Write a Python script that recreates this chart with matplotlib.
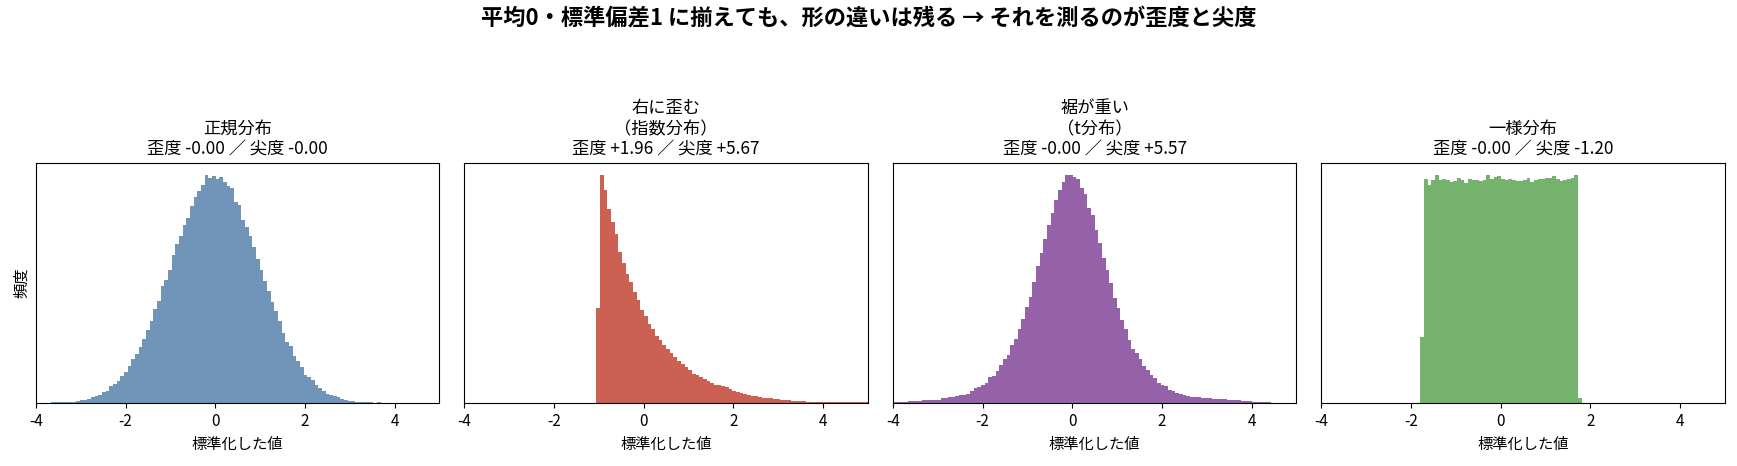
import numpy as np
import matplotlib
matplotlib.use("Agg")
import matplotlib.pyplot as plt

plt.rcParams['font.family'] = ['Noto Sans CJK JP', 'DejaVu Sans']
plt.rcParams['axes.unicode_minus'] = False

# 共通のビン: -4〜5 を 110 区間
bin_lo, bin_hi, n_bins = -4.0, 5.0, 110

# 各分布の度数 (開始ビン番号, 値) ─ 画像から読み取り
normal_start = 4
normal_counts = [3, 2, 3, 3, 3, 3, 4, 6, 8, 8, 12, 18, 22, 25, 34, 37, 50, 58, 67, 82,
                 94, 112, 133, 147, 169, 194, 220, 248, 282, 308, 352, 372, 400, 446, 480,
                 503, 537, 556, 594, 619, 637, 657, 688, 678, 685, 676, 680, 666, 654, 646,
                 604, 597, 550, 529, 504, 469, 435, 400, 369, 336, 304, 278, 248, 212, 185,
                 171, 142, 128, 108, 85, 79, 68, 53, 46, 35, 28, 25, 20, 17, 11, 9, 7, 5,
                 3, 3, 3, 3, 2, 1, 2]

expo_start = 36
expo_counts = [285, 688, 642, 585, 544, 508, 454, 421, 389, 363, 335, 309, 280, 262, 237,
               223, 201, 189, 174, 162, 150, 139, 127, 117, 108, 99, 88, 84, 78, 72, 65,
               60, 55, 53, 51, 47, 42, 35, 33, 29, 27, 24, 21, 20, 19, 16, 16, 15, 13, 12,
               10, 10, 9, 7, 7, 7, 6, 4, 4, 4, 4, 4, 2, 2, 2, 2, 2, 2, 2, 2, 2, 2, 2, 2]

t_start = 0
t_counts = [3, 3, 3, 4, 5, 5, 5, 5, 9, 9, 9, 9, 9, 15, 15, 18, 18, 22, 24, 25, 28, 35, 45,
            48, 53, 60, 80, 83, 98, 115, 132, 145, 175, 193, 223, 252, 290, 320, 363, 412,
            453, 495, 535, 572, 610, 640, 665, 688, 687, 680, 675, 648, 628, 588, 565, 522,
            483, 437, 400, 362, 315, 285, 250, 222, 190, 162, 150, 132, 113, 100, 85, 75,
            60, 55, 50, 40, 36, 30, 27, 23, 21, 19, 17, 17, 15, 15, 14, 13, 12, 12, 11, 10,
            9, 8, 8, 6, 6, 5, 4, 4, 4, 4, 4]

unif_start = 27
unif_counts = [200, 675, 655, 670, 687, 670, 675, 670, 665, 668, 678, 670, 662, 675, 672,
               670, 668, 670, 685, 675, 680, 682, 675, 672, 675, 672, 668, 667, 670, 677,
               665, 672, 675, 675, 678, 678, 682, 675, 668, 670, 675, 677, 685, 15]

titles = ["正規分布\n歪度 -0.00 ／ 尖度 -0.00",
          "右に歪む\n（指数分布）\n歪度 +1.96 ／ 尖度 +5.67",
          "裾が重い\n（t分布）\n歪度 -0.00 ／ 尖度 +5.57",
          "一様分布\n歪度 -0.00 ／ 尖度 -1.20"]
colors = ["#7194B9", "#CC6052", "#9561A9", "#75B26D"]

edges = np.linspace(bin_lo, bin_hi, n_bins + 1)
centers = (edges[:-1] + edges[1:]) / 2


def full_counts(start, vals):
    c = np.zeros(n_bins)
    c[start:start + len(vals)] = vals
    return c


series = [full_counts(normal_start, normal_counts),
          full_counts(expo_start, expo_counts),
          full_counts(t_start, t_counts),
          full_counts(unif_start, unif_counts)]

fig, axes = plt.subplots(1, 4, figsize=(17.37, 4.66), dpi=100)
fig.subplots_adjust(left=0.0207, right=0.993, bottom=0.135, top=0.65, wspace=0.062)

for i, ax in enumerate(axes):
    ax.hist(centers, bins=edges, weights=series[i], color=colors[i])
    ax.set_xlim(-4, 5)
    ax.set_yticks([])
    ax.set_title(titles[i], fontsize=12.4)
    ax.set_xlabel("標準化した値", fontsize=11)
    ax.tick_params(axis='x', labelsize=11)

axes[0].set_ylabel("頻度", fontsize=11)

fig.suptitle("平均0・標準偏差1 に揃えても、形の違いは残る → それを測るのが歪度と尖度",
             fontsize=16, fontweight='bold', y=0.985)

fig.savefig("out.png", dpi=100)
